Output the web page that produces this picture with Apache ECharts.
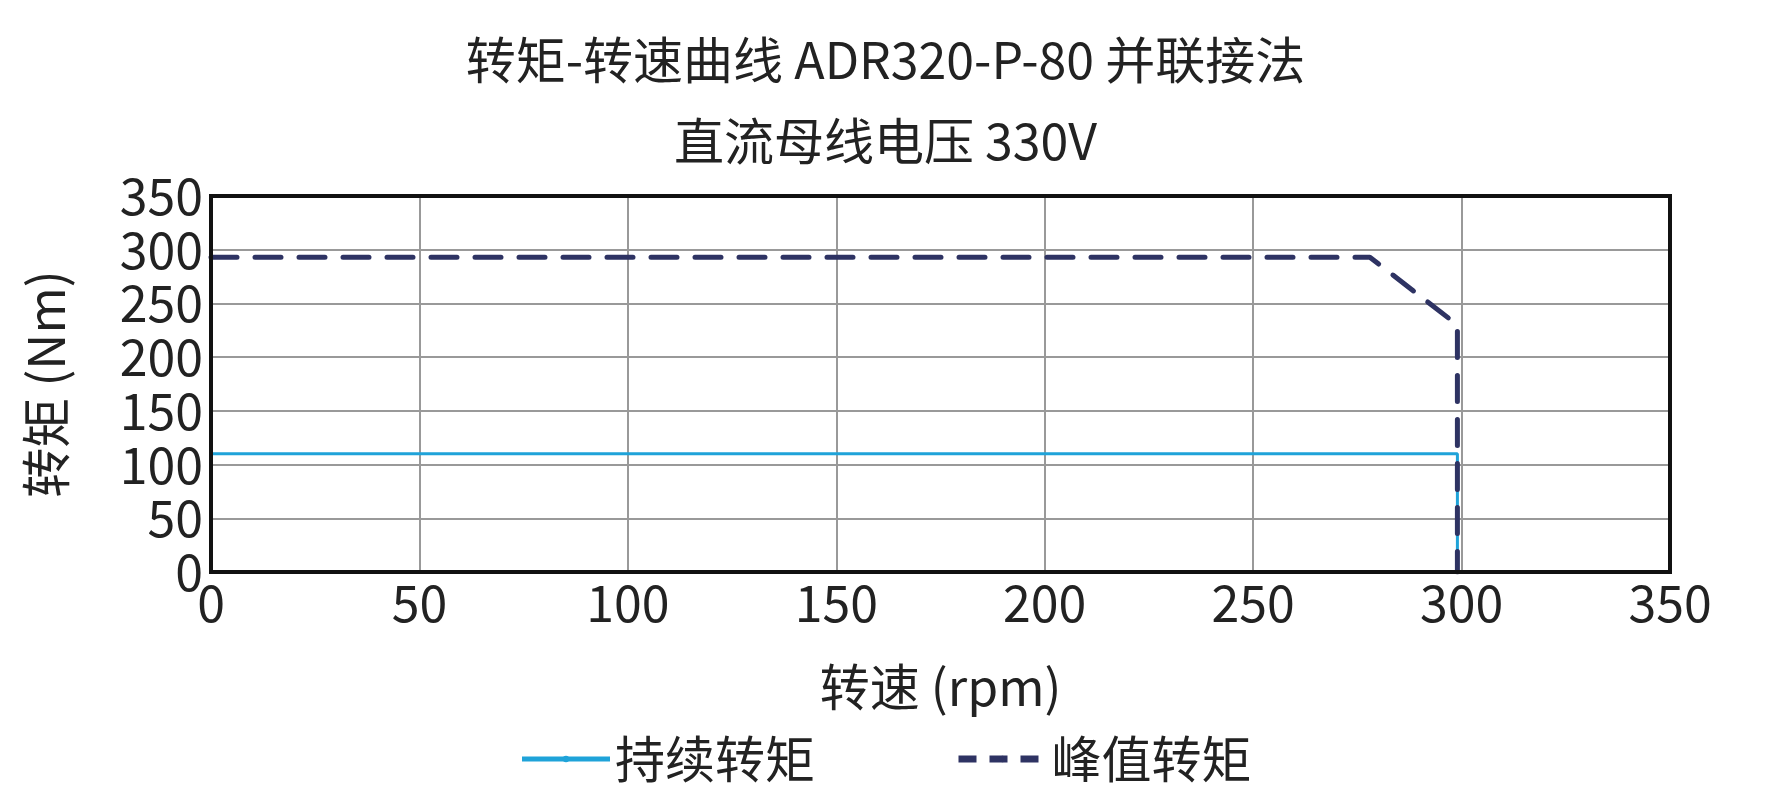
<!DOCTYPE html>
<html><head><meta charset="utf-8">
<script src="https://cdn.jsdelivr.net/npm/echarts@6/dist/echarts.min.js"></script>
<style>html,body{margin:0;background:#fff}#c{width:1771px;height:803px}</style>
</head><body><div id="c"></div>
<script>
// 持续转矩 / 峰值转矩  [rpm, Nm]
const contSpeed = [0, 299, 299];
const contTorque = [110, 110, 0];
const peakSpeed = [0, 278, 299, 299];
const peakTorque = [293, 293, 230, 0];

const FONT = '"Noto Sans CJK SC", "Noto Sans", sans-serif';
const chart = echarts.init(document.getElementById('c'));

chart.setOption({
  animation: false,
  textStyle: { fontFamily: FONT },
  title: {
    text: '转矩-转速曲线 ADR320-P-80 并联接法\n直流母线电压 330V',
    left: 'center', top: 14,
    textStyle: { fontSize: 50, fontWeight: 'normal', color: '#222', lineHeight: 81, fontFamily: FONT },
  },
  grid: { left: 211, right: 101, top: 196, bottom: 231 },
  xAxis: {
    type: 'value', min: 0, max: 350, interval: 50,
    name: '转速 (rpm)', nameLocation: 'middle', nameGap: 90,
    nameTextStyle: { fontSize: 50, color: '#222' },
    axisLine: { show: false }, axisTick: { show: false },
    axisLabel: { fontSize: 50, color: '#222', margin: 6 },
    splitLine: { lineStyle: { color: '#999', width: 2 } },
  },
  yAxis: {
    type: 'value', min: 0, max: 350, interval: 50,
    name: '转矩 (Nm)', nameLocation: 'middle', nameGap: 140,
    nameTextStyle: { fontSize: 50, color: '#222' },
    axisLine: { show: false }, axisTick: { show: false },
    axisLabel: { fontSize: 50, color: '#222', margin: 8 },
    splitLine: { lineStyle: { color: '#999', width: 2 } },
  },
  legend: {
    bottom: 14, left: 'center', itemGap: 140, itemWidth: 88, itemHeight: 8,
    textStyle: { fontSize: 50, color: '#222' },
    data: [
      { name: '持续转矩', lineStyle: { width: 5 } },
      { name: '峰值转矩', lineStyle: { width: 7, type: [18, 13], cap: 'butt' } },
    ],
  },
  graphic: [{
    type: 'rect', shape: { x: 211, y: 196, width: 1459, height: 376 },
    style: { fill: 'none', stroke: '#111', lineWidth: 4 }, z: 100,
  }],
  series: [
    {
      name: '持续转矩', type: 'line', symbol: 'none',
      data: contSpeed.map((s, i) => [s, contTorque[i]]),
      lineStyle: { color: '#1fa3d9', width: 3 }, itemStyle: { color: '#1fa3d9' },
    },
    {
      name: '峰值转矩', type: 'line', symbol: 'none',
      data: peakSpeed.map((s, i) => [s, peakTorque[i]]),
      lineStyle: { color: '#2e3363', width: 5, type: [26, 18], cap: 'round' },
      itemStyle: { color: '#2e3363' },
    },
  ],
});
</script></body></html>
